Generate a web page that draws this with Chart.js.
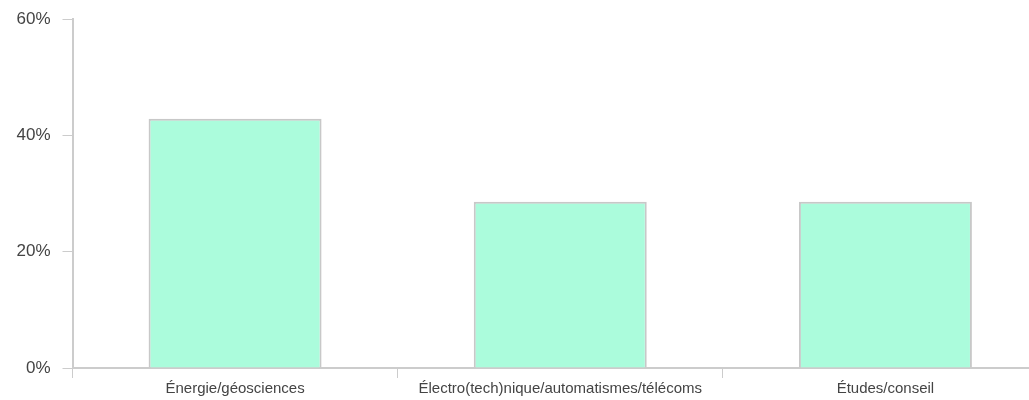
<!DOCTYPE html>
<html>
<head>
<meta charset="utf-8">
<script src="https://cdn.jsdelivr.net/npm/chart.js@4"></script>
<style>
  html, body { margin: 0; padding: 0; background: #fff; overflow: hidden; }
  #wrap { width: 1029px; height: 400px; overflow: hidden; }
</style>
</head>
<body>
<div id="wrap"><canvas id="barChart" width="1048" height="400"></canvas></div>
<script>
const categories = ['Énergie/géosciences', 'Électro(tech)nique/automatismes/télécoms', 'Études/conseil'];
const shares = [42.86, 28.57, 28.57];
const yTicks = [0, 20, 40, 60];

const axisColor = '#cccccc';
const textColor = '#444444';

new Chart(document.getElementById('barChart'), {
    type: 'bar',
    data: {
        labels: categories,
        datasets: [{
            data: shares,
            backgroundColor: 'rgb(171, 252, 220)',
            borderColor: '#c8c8c8',
            borderWidth: 2,
            borderSkipped: 'bottom',
            barPercentage: 0.532,
            categoryPercentage: 1
        }]
    },
    options: {
        responsive: false,
        animation: false,
        layout: { padding: { top: 19, right: 0, left: 0, bottom: 0 } },
        plugins: { legend: { display: false }, tooltip: { enabled: false } },
        scales: {
            x: {
                afterFit: (scale) => { scale.height = 32; scale.paddingLeft = 0; scale.paddingRight = 0; },
                grid: { drawOnChartArea: false, color: axisColor, tickLength: 10, offset: true },
                border: { color: axisColor, width: 2 },
                ticks: {
                    color: textColor,
                    font: { family: 'Liberation Sans, Arial', size: 15 },
                    padding: 2,
                    maxRotation: 0
                }
            },
            y: {
                min: 0,
                max: 60,
                afterFit: (scale) => { scale.width = 72.5; scale.paddingTop = 0; scale.paddingBottom = 0; },
                afterBuildTicks: (scale) => { scale.ticks = yTicks.map(v => ({ value: v })); },
                grid: { drawOnChartArea: false, color: axisColor, tickLength: 10 },
                border: { color: axisColor, width: 2 },
                ticks: {
                    color: textColor,
                    font: { family: 'Liberation Sans, Arial', size: 17 },
                    padding: 12,
                    callback: (v) => v + '%'
                }
            }
        }
    }
});
</script>
</body>
</html>
